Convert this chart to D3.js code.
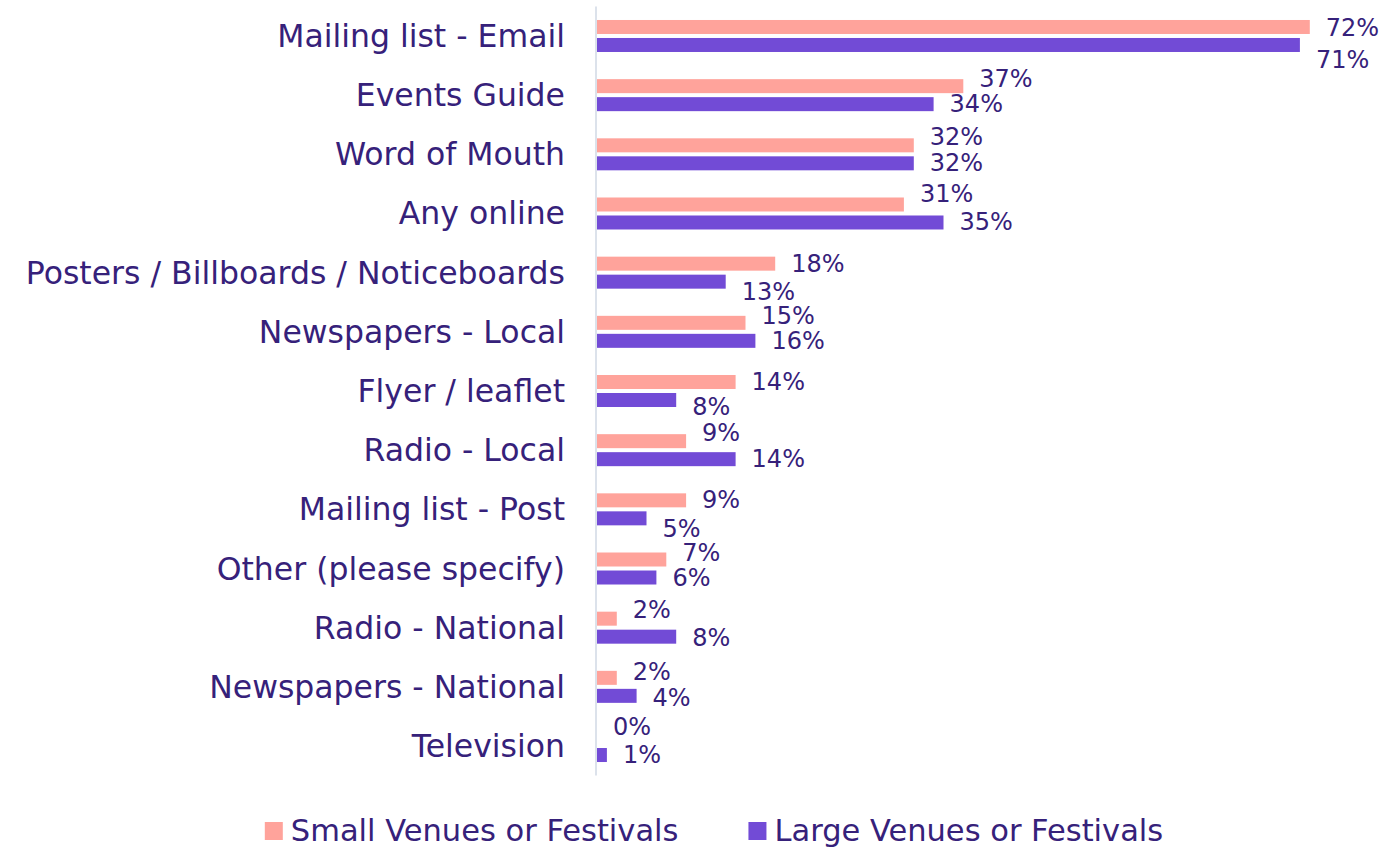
<!DOCTYPE html>
<html>
<head>
<meta charset="utf-8">
<script src="https://cdn.jsdelivr.net/npm/d3@7"></script>
<style>
  html, body { margin: 0; padding: 0; background: #ffffff; }
  svg { display: block; }
  text { font-family: "DejaVu Sans", sans-serif; fill: #36217a; }
</style>
</head>
<body>
<svg id="chart" width="1386" height="848"></svg>
<script>
// Where audiences heard about events, by venue size (% of respondents)
const categories = [
  "Mailing list - Email",
  "Events Guide",
  "Word of Mouth",
  "Any online",
  "Posters / Billboards / Noticeboards",
  "Newspapers - Local",
  "Flyer / leaflet",
  "Radio - Local",
  "Mailing list - Post",
  "Other (please specify)",
  "Radio - National",
  "Newspapers - National",
  "Television"
];
const seriesNames = ["Small Venues or Festivals", "Large Venues or Festivals"];
const smallValues = [72, 37, 32, 31, 18, 15, 14, 9, 9, 7, 2, 2, 0];
const largeValues = [71, 34, 32, 35, 13, 16, 8, 14, 5, 6, 8, 4, 1];

// Vertical nudges (px) that keep the two value labels of a row apart
const smallLabelShift = [1, -7, -8, -10, 0, -7, 0, -8, 0, -7, -9, -6, -10];
const largeLabelShift = [15, 0, 0, 0, 10, 0, 7, 0, 11, 0, 1, 2, 0];

const colors = ["#ffa39b", "#724bd6"];

const svg = d3.select("#chart");

const x = d3.scaleLinear().domain([0, 100]).range([597, 1587]);
const y = d3.scaleBand().domain(categories).range([6.4, 775.6]);
const inner = d3.scaleBand().domain(seriesNames)
  .range([-18, 18]).paddingInner(4 / 18).paddingOuter(2 / 18);

const rows = categories.map((c, i) => ({
  category: c,
  values: [smallValues[i], largeValues[i]],
  shifts: [smallLabelShift[i], largeLabelShift[i]]
}));

// Category labels
svg.append("g")
  .selectAll("text")
  .data(categories)
  .join("text")
  .attr("x", 565)
  .attr("y", d => y(d) + y.bandwidth() / 2)
  .attr("text-anchor", "end")
  .attr("dominant-baseline", "central")
  .style("font-size", "31.5px")
  .text(d => d);

// Bars and value labels
const row = svg.append("g")
  .selectAll("g")
  .data(rows)
  .join("g")
  .attr("transform", d => `translate(0,${y(d.category) + y.bandwidth() / 2})`);

row.selectAll("rect")
  .data(d => d.values.map((v, k) => ({ v, k })))
  .join("rect")
  .attr("x", x(0))
  .attr("y", d => inner(seriesNames[d.k]))
  .attr("width", d => Math.max(0, x(d.v) - x(0)))
  .attr("height", inner.bandwidth())
  .attr("fill", d => colors[d.k]);

row.selectAll("text")
  .data(d => d.values.map((v, k) => ({ v, k, shift: d.shifts[k] })))
  .join("text")
  .attr("x", d => x(d.v) + 16)
  .attr("y", d => inner(seriesNames[d.k]) + inner.bandwidth() / 2 + d.shift)
  .attr("dominant-baseline", "central")
  .style("font-size", "24px")
  .text(d => d.v + "%");

// Vertical category axis line
svg.append("line")
  .attr("x1", 596).attr("x2", 596)
  .attr("y1", y.range()[0]).attr("y2", y.range()[1])
  .attr("stroke", "#dce2eb")
  .attr("stroke-width", 2);

// Legend, centred under the plot
const legend = svg.append("g");
const items = legend.selectAll("g")
  .data(seriesNames)
  .join("g");
items.append("rect")
  .attr("width", 18).attr("height", 18)
  .attr("y", -8)
  .attr("fill", (d, i) => colors[i]);
items.append("text")
  .attr("x", 26)
  .attr("dominant-baseline", "central")
  .style("font-size", "30.5px")
  .text(d => d);

let offset = 0;
const gap = 70;
items.each(function () {
  const w = this.getBBox().width;
  d3.select(this).attr("transform", `translate(${offset},0)`);
  offset += w + gap;
});
const total = offset - gap;
legend.attr("transform", `translate(${714 - total / 2},830)`);
</script>
</body>
</html>
